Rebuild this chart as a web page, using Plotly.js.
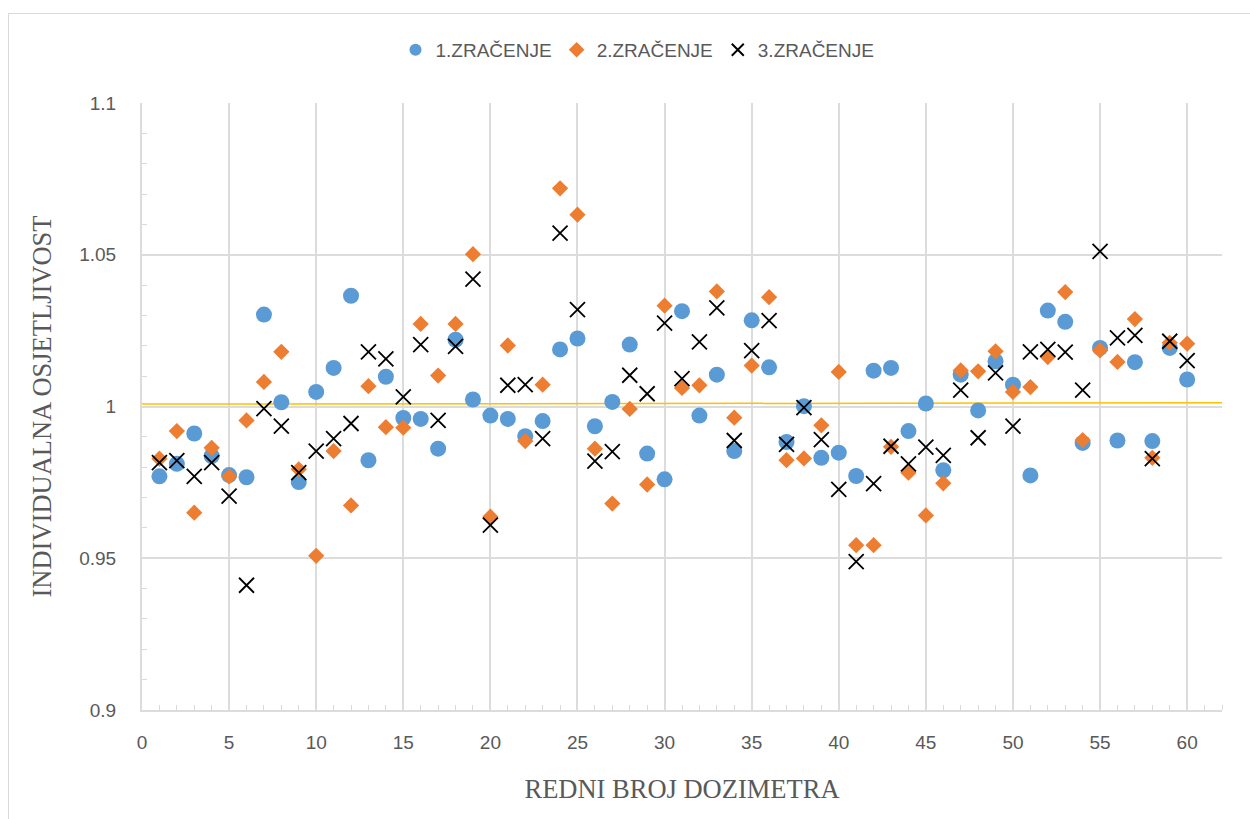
<!DOCTYPE html>
<html>
<head>
<meta charset="utf-8">
<script src="https://cdn.plot.ly/plotly-3.0.1.min.js"></script>
<style>
  html, body { margin: 0; padding: 0; background: #ffffff; overflow: hidden; }
  #frame { position: absolute; left: 8px; top: 13px; width: 1260px; height: 830px; border: 1px solid #d9d9d9; box-sizing: border-box; }
  #chart { position: absolute; left: 0; top: 0; width: 1250px; height: 819px; }
</style>
</head>
<body>
<div id="frame"></div>
<div id="chart"></div>
<script>
const dosimeters = Array.from({length: 60}, (_, i) => i + 1);

const irradiation1 = [
  0.9770, 0.9811, 0.9911, 0.9837, 0.9774, 0.9767, 1.0303, 1.0014, 0.9751, 1.0048,
  1.0127, 1.0365, 0.9823, 1.0098, 0.9962, 0.9959, 0.9861, 1.0220, 1.0023, 0.9970,
  0.9959, 0.9902, 0.9952, 1.0188, 1.0224, 0.9935, 1.0015, 1.0204, 0.9845, 0.9760,
  1.0314, 0.9970, 1.0105, 0.9853, 1.0284, 1.0129, 0.9883, 1.0001, 0.9831, 0.9848,
  0.9771, 1.0118, 1.0127, 0.9919, 1.0010, 0.9790, 1.0105, 0.9987, 1.0149, 1.0072,
  0.9773, 1.0316, 1.0279, 0.9880, 1.0193, 0.9888, 1.0146, 0.9886, 1.0193, 1.0089
];

const irradiation2 = [
  0.9828, 0.9919, 0.9650, 0.9864, 0.9769, 0.9954, 1.0081, 1.0180, 0.9793, 0.9508,
  0.9853, 0.9674, 1.0067, 0.9932, 0.9930, 1.0272, 1.0102, 1.0272, 1.0502, 0.9637,
  1.0201, 0.9886, 1.0072, 1.0719, 1.0632, 0.9861, 0.9680, 0.9992, 0.9743, 1.0332,
  1.0061, 1.0070, 1.0379, 0.9963, 1.0135, 1.0360, 0.9823, 0.9829, 0.9938, 1.0114,
  0.9543, 0.9543, 0.9867, 0.9782, 0.9641, 0.9747, 1.0119, 1.0116, 1.0182, 1.0048,
  1.0064, 1.0163, 1.0377, 0.9889, 1.0185, 1.0147, 1.0288, 0.9831, 1.0210, 1.0207
];

const irradiation3 = [
  0.9815, 0.9822, 0.9770, 0.9815, 0.9705, 0.9411, 0.9993, 0.9935, 0.9782, 0.9853,
  0.9894, 0.9944, 1.0180, 1.0157, 1.0032, 1.0204, 0.9954, 1.0198, 1.0420, 0.9609,
  1.0070, 1.0072, 0.9894, 1.0571, 1.0319, 0.9820, 0.9851, 1.0103, 1.0042, 1.0275,
  1.0092, 1.0213, 1.0325, 0.9888, 1.0184, 1.0283, 0.9875, 0.9996, 0.9891, 0.9727,
  0.9489, 0.9746, 0.9869, 0.9811, 0.9866, 0.9839, 1.0054, 0.9897, 1.0111, 0.9935,
  1.0180, 1.0188, 1.0179, 1.0054, 1.0511, 1.0226, 1.0234, 0.9828, 1.0215, 1.0151
];

const seriesNames = ['1.ZRAČENJE', '2.ZRAČENJE', '3.ZRAČENJE'];

const trendX = [0, 62];
const trendY = [1.0008, 1.0012];

const xTitle = 'REDNI BROJ DOZIMETRA';
const yTitle = 'INDIVIDUALNA OSJETLJIVOST';

const tickFont = {family: 'Liberation Sans, Arial, sans-serif', size: 19, color: '#595959'};
const titleFont = {family: 'Liberation Serif, Times New Roman, serif', size: 26.5, color: '#595959'};

const traces = [
  {
    x: trendX, y: trendY, type: 'scatter', mode: 'lines',
    line: {color: '#FFC000', width: 1.5}, showlegend: false, hoverinfo: 'skip'
  },
  {
    x: dosimeters, y: irradiation1, name: seriesNames[0], type: 'scatter', mode: 'markers',
    marker: {symbol: 'circle', size: 16, color: '#5B9BD5'}
  },
  {
    x: dosimeters, y: irradiation2, name: seriesNames[1], type: 'scatter', mode: 'markers',
    marker: {symbol: 'diamond', size: 12.5, color: '#ED7D31'}
  },
  {
    x: dosimeters, y: irradiation3, name: seriesNames[2], type: 'scatter', mode: 'markers',
    marker: {symbol: 'x-thin', size: 15, color: '#000000', line: {color: '#000000', width: 1.8}}
  }
];

const layout = {
  width: 1250, height: 819,
  paper_bgcolor: 'rgba(0,0,0,0)', plot_bgcolor: '#ffffff',
  margin: {l: 142, r: 28, t: 103, b: 109},
  showlegend: true,
  legend: {
    orientation: 'h', xref: 'container', yref: 'container',
    x: 0.51, xanchor: 'center', y: 0.939, yanchor: 'middle',
    font: {family: 'Liberation Sans, Arial, sans-serif', size: 19, color: '#595959'},
    itemsizing: 'constant', itemwidth: 30, traceorder: 'normal'
  },
  xaxis: {
    range: [0, 62], dtick: 5, tick0: 0,
    showgrid: true, gridcolor: '#dcdcdc', gridwidth: 2,
    showline: true, linecolor: '#dcdcdc', linewidth: 2,
    zeroline: false, ticks: '', tickfont: tickFont, ticklabelstandoff: 14,
    minor: {dtick: 1, ticks: 'inside', ticklen: 5, tickcolor: '#d9d9d9', showgrid: false},
    title: {text: xTitle, font: titleFont, standoff: 28}
  },
  yaxis: {
    range: [0.9, 1.1], dtick: 0.05, tick0: 0.9,
    showgrid: true, gridcolor: '#dcdcdc', gridwidth: 2,
    showline: true, linecolor: '#dcdcdc', linewidth: 2,
    zeroline: false, ticks: '', tickfont: tickFont, ticklabelstandoff: 20,
    minor: {dtick: 0.01, ticks: 'inside', ticklen: 5, tickcolor: '#d9d9d9', showgrid: false},
    title: {text: yTitle, font: titleFont, standoff: 20}
  }
};

Plotly.newPlot('chart', traces, layout, {displayModeBar: false, staticPlot: true});
</script>
</body>
</html>
